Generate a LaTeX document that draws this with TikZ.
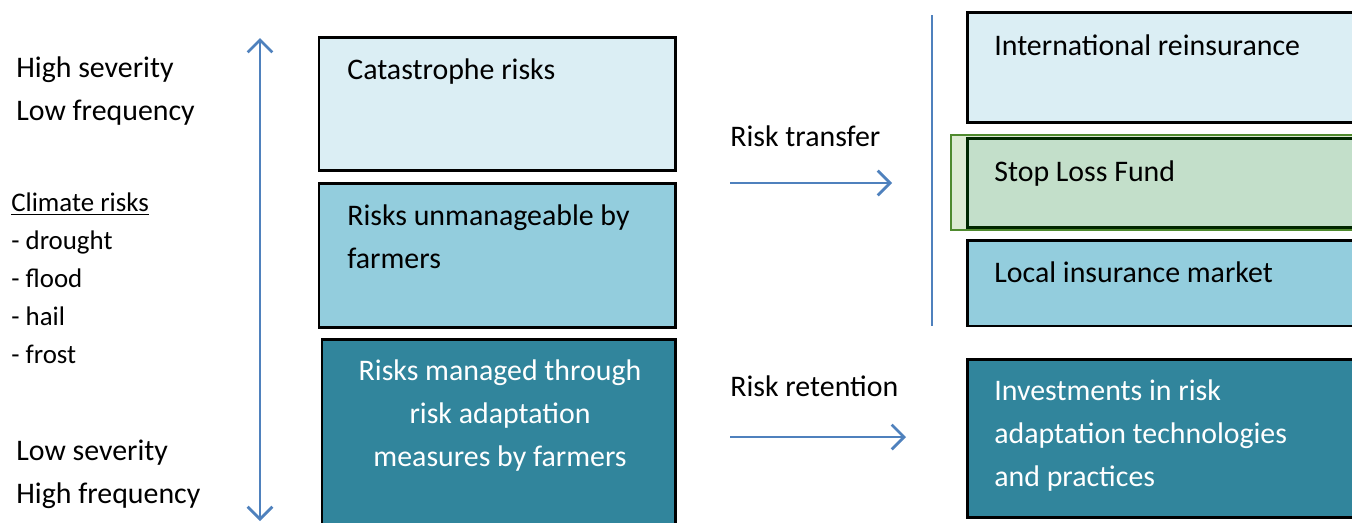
\documentclass[tikz,border=0pt]{standalone}
\usepackage{fontspec}
\setmainfont{Carlito}
\usepackage{xcolor}
\usepackage{tikz}
\usetikzlibrary{arrows.meta}

\definecolor{paleblue}{HTML}{DBEEF4}
\definecolor{midblue}{HTML}{93CDDD}
\definecolor{tealblue}{HTML}{31859C}
\definecolor{arrowblue}{HTML}{4F81BD}
\definecolor{palegreen}{HTML}{DDEBD3}
\definecolor{fundgreen}{HTML}{C3DFCA}
\definecolor{edgegreen}{HTML}{4F8A2E}

\begin{document}
\begin{tikzpicture}[x=0.02cm, y=-0.02cm,
	box/.style={draw=black, line width=1.7pt, anchor=north west, inner sep=0pt, outer sep=0pt},
	label/.style={anchor=base west, inner sep=0pt, align=left, font=\fontsize{17}{24.2}\selectfont},
	small/.style={anchor=base west, inner sep=0pt, align=left, font=\fontsize{15.3}{21.6}\selectfont},
	link/.style={draw=arrowblue, line width=1.6pt, -{Straight Barb[length=7pt, width=14pt]}}]
			\useasboundingbox (0,0) rectangle (1352,522);
			\clip (0,0) rectangle (1352,522);
			% Left column (base = last line)
			\node[label] (hs) at (16,120) {High severity\\Low frequency};
			\node[small] (cr) at (11,363) {\underline{Climate risks}\\- drought\\- flood\\- hail\\- frost};
			\node[label] (ls) at (16,503) {Low severity\\High frequency};
			\coordinate (top) at (260,38);
			\coordinate (bot) at (260,521);
			\draw[link, {Straight Barb[length=7pt, width=14pt]}-{Straight Barb[length=7pt, width=14pt]}] (top) -- (bot);
			% Risk layers
			\node[box, fill=paleblue, minimum width=7.14cm, minimum height=2.68cm] (cat) at (319,37) {};
			\node[box, fill=midblue, minimum width=7.14cm, minimum height=2.9cm] (unman) at (319,183) {};
			\node[box, fill=tealblue, minimum width=7.08cm, minimum height=3.9cm] (managed) at (322,339) {};
			\node[label] (cattext) at (347,79) {Catastrophe risks};
			\node[label] (unmantext) at (347,268) {Risks unmanageable by\\farmers};
			\node[label, anchor=base, align=center, text=white] (managedtext) at (500,466) {Risks managed through\\risk adaptation\\measures by farmers};
			% Middle arrows
			\node[label] (transfer) at (730,146) {Risk transfer};
			\node[label] (retention) at (730,396) {Risk retention};
			\coordinate (t1) at (730,183);
			\coordinate (t2) at (892,183);
			\coordinate (r1) at (730,437);
			\coordinate (r2) at (906,437);
			\draw[link] (t1) -- (t2);
			\draw[link] (r1) -- (r2);
			\coordinate (v1) at (932,15);
			\coordinate (v2) at (932,326);
			\draw[draw=arrowblue, line width=1.6pt] (v1) -- (v2);
			% Instruments
			\node[box, fill=paleblue, minimum width=7.86cm, minimum height=2.22cm] (intl) at (967,12) {};
			\node[box, draw=edgegreen, line width=1.2pt, fill=palegreen, minimum width=8.18cm, minimum height=1.9cm] (fundouter) at (951,135) {};
			\node[box, draw=black!85!green, fill=fundgreen, minimum width=7.86cm, minimum height=1.8cm] (fund) at (967,138) {};
			\node[box, fill=midblue, minimum width=7.86cm, minimum height=1.72cm] (local) at (967,240) {};
			\node[box, fill=tealblue, minimum width=7.86cm, minimum height=3.18cm] (invest) at (967,359) {};
			\node[label] (intltext) at (994,55) {International reinsurance};
			\node[label] (fundtext) at (994,181) {Stop Loss Fund};
			\node[label] (localtext) at (994,282) {Local insurance market};
			\node[label, text=white] (investtext) at (994,486) {Investments in risk\\adaptation technologies\\and practices};
		\end{tikzpicture}
\end{document}
